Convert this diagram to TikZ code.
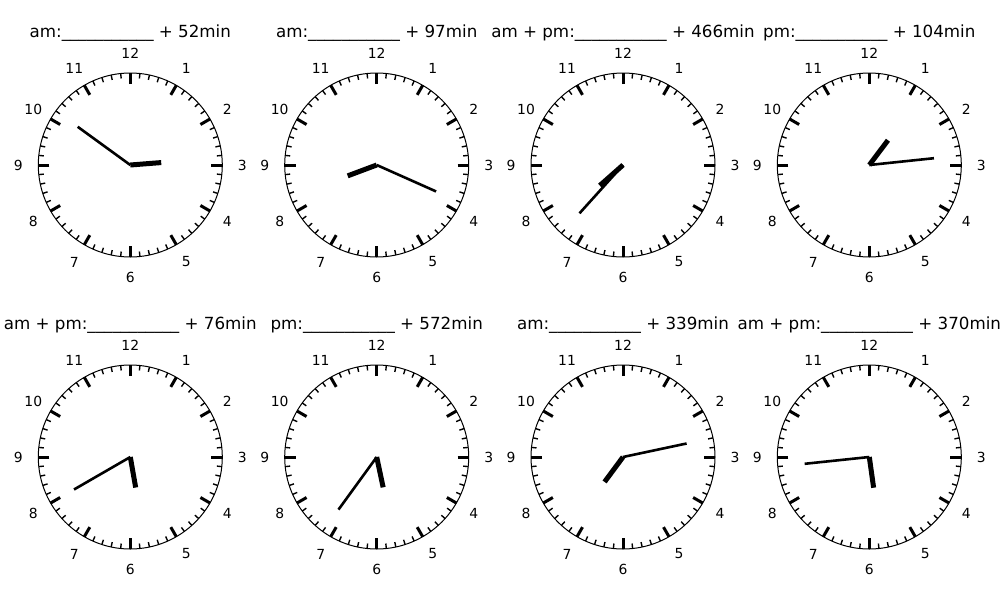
\documentclass[tikz,border=0pt]{standalone}
\usepackage{fontspec}
\setmainfont{DejaVu Sans}
\tikzset{
  rim/.style={line width=1pt},
  minortick/.style={line width=1.4pt},
  majortick/.style={line width=3pt},
  hourhand/.style={line width=5pt},
  minutehand/.style={line width=2.6pt},
  numlabel/.style={inner sep=0pt, font=\fontsize{13.9}{16}\selectfont},
  cltitle/.style={inner sep=0pt, font=\fontsize{16.7}{20}\selectfont}
}
\newcommand\myclock[6]{% name, cx, cy, hour, minute, title
  \begin{scope}[shift={(#2,#3)}]
    \coordinate (#1c) at (0,0);
    \draw[rim] (#1c) circle (92pt);
    \foreach \i in {0,...,59}{
      \pgfmathsetmacro\a{6*\i}
      \draw[minortick] ({87*sin(\a)},{-87*cos(\a)}) -- ({92*sin(\a)},{-92*cos(\a)});
    }
    \foreach \k in {1,...,12}{
      \pgfmathsetmacro\a{30*\k}
      \draw[majortick] ({81*sin(\a)},{-81*cos(\a)}) -- ({92*sin(\a)},{-92*cos(\a)});
      \node[numlabel] (#1n\k) at ({112*sin(\a)},{-112*cos(\a)}) {\k};
    }
    \pgfmathsetmacro\ha{30*#4+0.5*#5}
    \pgfmathsetmacro\ma{6*#5}
    \coordinate (#1h) at ({31*sin(\ha)},{-31*cos(\ha)});
    \coordinate (#1m) at ({65*sin(\ma)},{-65*cos(\ma)});
    \draw[minutehand] (#1c) -- (#1m);
    \draw[hourhand] (#1c) -- (#1h);
    \node[cltitle] (#1t) at (0,-132) {#6};
  \end{scope}
}
\begin{document}
\begin{tikzpicture}[x=1pt,y=-1pt]
  \useasboundingbox (0,0) rectangle (1000,600);
  \myclock{a}{130.3}{165}{2}{51}{am:\_\_\_\_\_\_\_\_\_\_\_ + 52min}
  \myclock{b}{376.7}{165}{8}{19}{am:\_\_\_\_\_\_\_\_\_\_\_ + 97min}
  \myclock{c}{623}{165}{7}{37}{am + pm:\_\_\_\_\_\_\_\_\_\_\_ + 466min}
  \myclock{d}{869.3}{165}{1}{14}{pm:\_\_\_\_\_\_\_\_\_\_\_ + 104min}
  \myclock{e}{130.3}{457}{5}{40}{am + pm:\_\_\_\_\_\_\_\_\_\_\_ + 76min}
  \myclock{f}{376.7}{457}{5}{36}{pm:\_\_\_\_\_\_\_\_\_\_\_ + 572min}
  \myclock{g}{623}{457}{7}{13}{am:\_\_\_\_\_\_\_\_\_\_\_ + 339min}
  \myclock{h}{869.3}{457}{5}{44}{am + pm:\_\_\_\_\_\_\_\_\_\_\_ + 370min}
\end{tikzpicture}
\end{document}
